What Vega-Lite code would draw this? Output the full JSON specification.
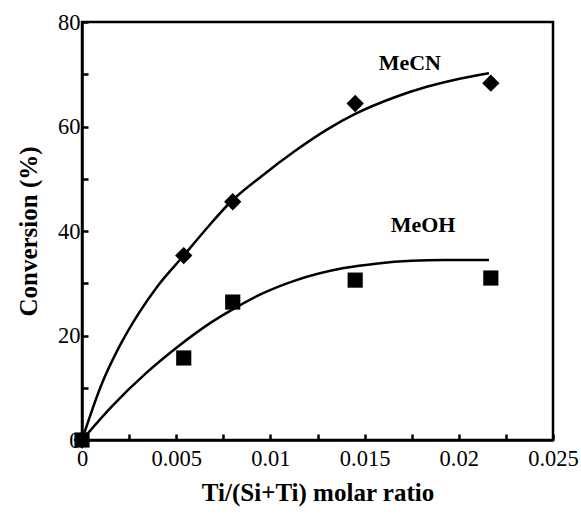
{
  "$schema": "https://vega.github.io/schema/vega-lite/v6.json",
  "autosize": {"type": "none"},
  "width": 471,
  "height": 418,
  "padding": {"left": 82, "top": 22, "right": 28, "bottom": 77},
  "background": "white",
  "config": {
    "view": {"stroke": "black", "strokeWidth": 2.5},
    "axis": {
      "grid": false,
      "domainColor": "black",
      "domainWidth": 2.5,
      "tickColor": "black",
      "tickWidth": 2.5,
      "tickSize": -6,
      "labelFont": "Liberation Serif",
      "labelFontSize": 22.5,
      "labelColor": "black",
      "titleFont": "Liberation Serif",
      "titleFontSize": 25,
      "titleFontWeight": "bold",
      "titleColor": "black"
    }
  },
  "datasets": {
    "curves": [
      {"series": "MeCN", "x": 0, "y": 0},
      {"series": "MeCN", "x": 0.001, "y": 10.3},
      {"series": "MeCN", "x": 0.002, "y": 18.0},
      {"series": "MeCN", "x": 0.003, "y": 24.2},
      {"series": "MeCN", "x": 0.004, "y": 29.4},
      {"series": "MeCN", "x": 0.0054, "y": 35.3},
      {"series": "MeCN", "x": 0.0065, "y": 40.0},
      {"series": "MeCN", "x": 0.0079, "y": 45.6},
      {"series": "MeCN", "x": 0.0095, "y": 50.4},
      {"series": "MeCN", "x": 0.0113, "y": 55.3},
      {"series": "MeCN", "x": 0.013, "y": 59.4},
      {"series": "MeCN", "x": 0.0145, "y": 62.4},
      {"series": "MeCN", "x": 0.0166, "y": 65.6},
      {"series": "MeCN", "x": 0.0183, "y": 67.6},
      {"series": "MeCN", "x": 0.0201, "y": 69.2},
      {"series": "MeCN", "x": 0.0216, "y": 70.2},
      {"series": "MeOH", "x": 0, "y": 0},
      {"series": "MeOH", "x": 0.0016, "y": 6.5},
      {"series": "MeOH", "x": 0.0034, "y": 12.8},
      {"series": "MeOH", "x": 0.0051, "y": 17.9},
      {"series": "MeOH", "x": 0.0069, "y": 22.6},
      {"series": "MeOH", "x": 0.008, "y": 25.0},
      {"series": "MeOH", "x": 0.0095, "y": 27.9},
      {"series": "MeOH", "x": 0.0113, "y": 30.5},
      {"series": "MeOH", "x": 0.0139, "y": 32.9},
      {"series": "MeOH", "x": 0.0157, "y": 33.8},
      {"series": "MeOH", "x": 0.0175, "y": 34.3},
      {"series": "MeOH", "x": 0.0192, "y": 34.45},
      {"series": "MeOH", "x": 0.0216, "y": 34.45}
    ],
    "points": [
      {"series": "MeCN", "x": 0, "y": 0},
      {"series": "MeCN", "x": 0.0054, "y": 35.3},
      {"series": "MeCN", "x": 0.008, "y": 45.6},
      {"series": "MeCN", "x": 0.0145, "y": 64.4},
      {"series": "MeCN", "x": 0.0217, "y": 68.3},
      {"series": "MeOH", "x": 0, "y": 0},
      {"series": "MeOH", "x": 0.0054, "y": 15.7},
      {"series": "MeOH", "x": 0.008, "y": 26.4},
      {"series": "MeOH", "x": 0.0145, "y": 30.6},
      {"series": "MeOH", "x": 0.0217, "y": 31.0}
    ],
    "labels": [
      {"text": "MeCN", "x": 0.0174, "y": 72.2},
      {"text": "MeOH", "x": 0.0181, "y": 41.1}
    ]
  },
  "layer": [
    {
      "data": {"name": "curves"},
      "mark": {"type": "line", "color": "black", "strokeWidth": 2.5, "interpolate": "monotone"},
      "encoding": {
        "x": {
          "field": "x", "type": "quantitative",
          "scale": {"domain": [0, 0.025], "nice": false, "zero": true},
          "axis": {
            "title": "Ti/(Si+Ti) molar ratio",
            "values": [0, 0.0025, 0.005, 0.0075, 0.01, 0.0125, 0.015, 0.0175, 0.02, 0.0225, 0.025],
            "format": "~g",
            "labelExpr": "round(datum.value*10000) % 50 == 0 ? datum.label : ''",
            "labelFlush": false,
            "labelOverlap": false,
            "labelPadding": 13,
            "titlePadding": 11
          }
        },
        "y": {
          "field": "y", "type": "quantitative",
          "scale": {"domain": [0, 80], "nice": false},
          "axis": {
            "title": "Conversion (%)",
            "values": [0, 10, 20, 30, 40, 50, 60, 70, 80],
            "labelExpr": "datum.value % 20 == 0 ? datum.label : ''",
            "labelOverlap": false,
            "labelPadding": 8,
            "titlePadding": 16
          }
        },
        "detail": {"field": "series", "type": "nominal"}
      }
    },
    {
      "data": {"name": "points"},
      "mark": {"type": "point", "filled": true, "color": "black", "opacity": 1},
      "encoding": {
        "x": {"field": "x", "type": "quantitative"},
        "y": {"field": "y", "type": "quantitative"},
        "shape": {
          "field": "series", "type": "nominal",
          "scale": {"domain": ["MeCN", "MeOH"], "range": ["diamond", "square"]},
          "legend": null
        },
        "size": {
          "field": "series", "type": "nominal",
          "scale": {"domain": ["MeCN", "MeOH"], "range": [300, 230]},
          "legend": null
        }
      }
    },
    {
      "data": {"name": "labels"},
      "mark": {"type": "text", "font": "Liberation Serif", "fontSize": 22, "fontWeight": "bold", "color": "black"},
      "encoding": {
        "x": {"field": "x", "type": "quantitative"},
        "y": {"field": "y", "type": "quantitative"},
        "text": {"field": "text"}
      }
    }
  ]
}
